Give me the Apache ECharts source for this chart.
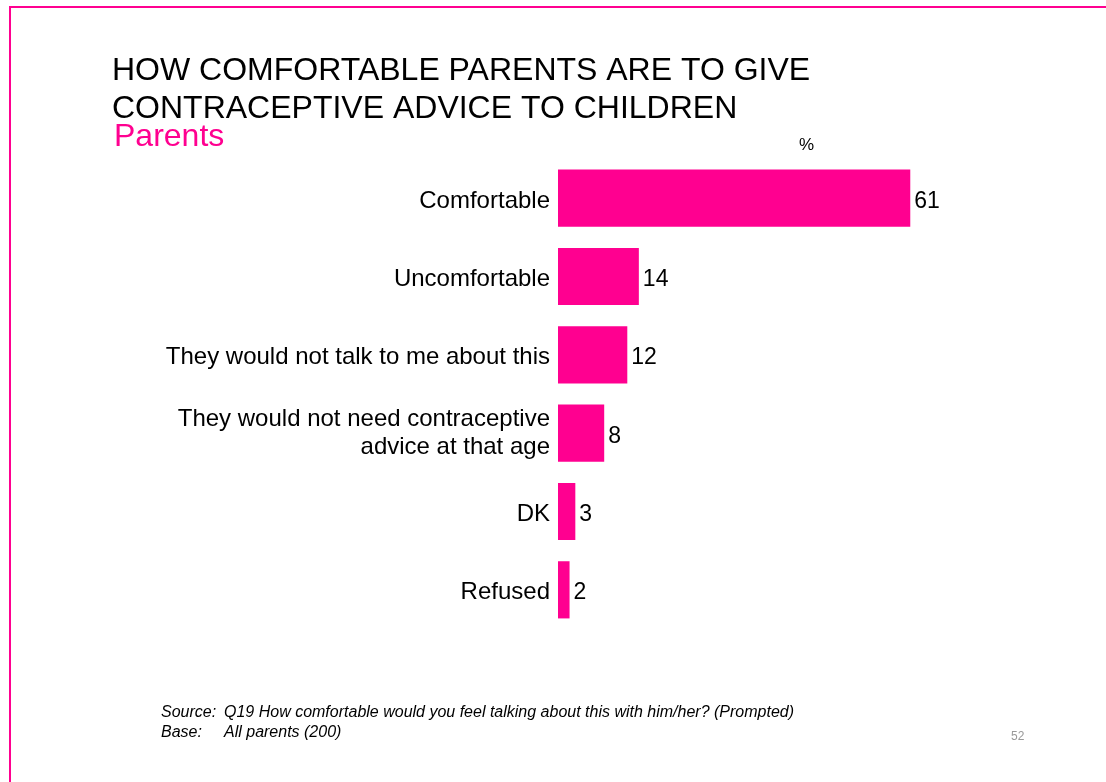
<!DOCTYPE html>
<html>
<head>
<meta charset="utf-8">
<style>
  html, body { margin: 0; padding: 0; background: #ffffff; }
  #chart { width: 1106px; height: 782px; }
</style>
<script src="https://cdn.jsdelivr.net/npm/echarts@6/dist/echarts.min.js"></script>
</head>
<body>
<div id="chart"></div>
<script>
// Answer categories, top to bottom
const categories = [
  'Comfortable',
  'Uncomfortable',
  'They would not talk to me about this',
  'They would not need contraceptive\nadvice at that age',
  'DK',
  'Refused'
];
// Share of parents (%)
const values = [61, 14, 12, 8, 3, 2];

const PINK = '#FF0090';
const FONT = '"Liberation Sans", Arial, Helvetica, sans-serif';

const chart = echarts.init(document.getElementById('chart'), null, { renderer: 'canvas' });

chart.setOption({
  backgroundColor: '#ffffff',
  animation: false,
  textStyle: { fontFamily: FONT },
  grid: { left: 558, top: 159, width: 462, height: 470, containLabel: false },
  xAxis: {
    type: 'value',
    min: 0,
    max: 80,
    show: false
  },
  yAxis: {
    type: 'category',
    data: categories,
    inverse: true,
    axisLine: { show: false },
    axisTick: { show: false },
    splitLine: { show: false },
    axisLabel: {
      color: '#000000',
      fontSize: 24,
      fontFamily: FONT,
      margin: 8,
      align: 'right',
      lineHeight: 28,
      // single-line labels sit slightly below the bar centre
      formatter: function (v) {
        return v.indexOf('\n') >= 0 ? v : '{s|' + v + '}';
      },
      rich: {
        s: { fontSize: 24, fontFamily: FONT, color: '#000000', padding: [6, 0, 0, 0] }
      }
    }
  },
  series: [{
    type: 'bar',
    data: values,
    barCategoryGap: '27%',
    itemStyle: { color: PINK },
    label: {
      show: true,
      position: 'right',
      distance: 4,
      offset: [0, 3],
      color: '#000000',
      fontSize: 23,
      fontFamily: FONT
    }
  }],
  graphic: [
    // page frame
    {
      type: 'rect',
      shape: { x: 10, y: 7, width: 1200, height: 900 },
      style: { fill: 'none', stroke: PINK, lineWidth: 2 },
      silent: true
    },
    {
      type: 'text',
      left: 112, top: 52,
      style: {
        text: 'HOW COMFORTABLE PARENTS ARE TO GIVE\nCONTRACEPTIVE ADVICE TO CHILDREN',
        fill: '#000000',
        font: '32px ' + FONT,
        lineHeight: 38
      }
    },
    {
      type: 'text',
      left: 114, top: 121,
      style: { text: 'Parents', fill: PINK, font: '32px ' + FONT }
    },
    {
      type: 'text',
      left: 799, top: 137,
      style: { text: '%', fill: '#000000', font: '17px ' + FONT }
    },
    {
      type: 'text',
      left: 161, top: 705,
      style: { text: 'Source:', fill: '#000000', font: 'italic 16px ' + FONT }
    },
    {
      type: 'text',
      left: 224, top: 705,
      style: {
        text: 'Q19 How comfortable would you feel talking about this with him/her? (Prompted)',
        fill: '#000000',
        font: 'italic 16px ' + FONT
      }
    },
    {
      type: 'text',
      left: 161, top: 725,
      style: { text: 'Base:', fill: '#000000', font: 'italic 16px ' + FONT }
    },
    {
      type: 'text',
      left: 224, top: 725,
      style: { text: 'All parents (200)', fill: '#000000', font: 'italic 16px ' + FONT }
    },
    {
      type: 'text',
      left: 1011, top: 731,
      style: { text: '52', fill: '#999999', font: '12px ' + FONT }
    }
  ]
});
</script>
</body>
</html>
